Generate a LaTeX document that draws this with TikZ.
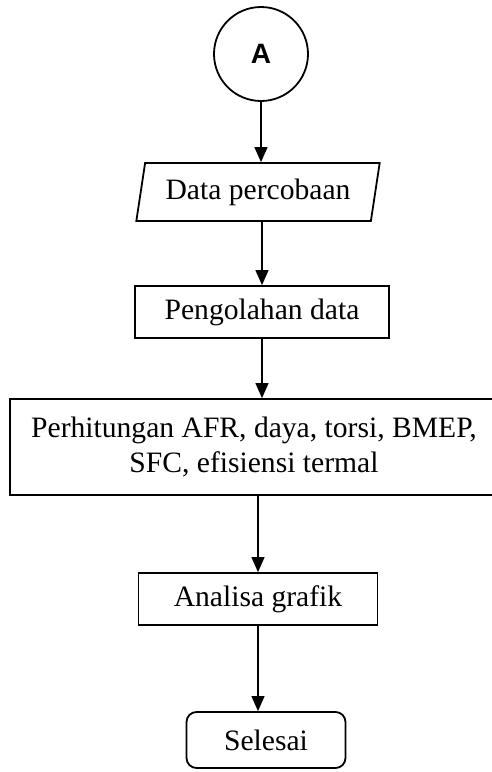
\documentclass[tikz,border=0pt]{standalone}
\usepackage{fontspec}
\setmainfont{Liberation Serif}
\setsansfont{Liberation Sans}
\usetikzlibrary{arrows.meta,shapes.geometric}

\begin{document}
\begin{tikzpicture}[x=1pt, y=-1pt,
    box/.style={rectangle, draw, line width=1.8pt, minimum height=52pt,
        font=\fontsize{29.6}{35}\selectfont, align=center, inner sep=0pt},
    arr/.style={line width=1.2pt, -{Triangle[length=15pt,width=13pt]}}]
    \useasboundingbox (0,0) rectangle (492,772);
    \node[circle, draw, line width=1.8pt, minimum size=94pt,
        font=\sffamily\bfseries\fontsize{28}{32}\selectfont] (A) at (261,54) {A};
    \node[trapezium, trapezium left angle=75, trapezium right angle=105,
        trapezium stretches=true, draw, line width=1.8pt,
        minimum width=244pt, minimum height=58pt, inner sep=0pt,
        font=\fontsize{29.6}{35}\selectfont] (data) at (258,192) {Data percobaan};
    \node[box, minimum width=254pt] (olah) at (262,312) {Pengolahan data};
    \node[box, minimum width=488pt, minimum height=96pt] (hitung) at (254,447)
        {Perhitungan AFR, daya, torsi, BMEP,\\SFC, efisiensi termal};
    \node[box, minimum width=239pt] (grafik) at (258,599) {Analisa grafik};
    \node[box, rounded corners=10pt, minimum width=159pt, minimum height=56pt]
        (selesai) at (266,740) {Selesai};

    \draw[arr] (A) -- (A |- data.north);
    \draw[arr] (data.south -| olah.north) -- (olah.north);
    \draw[arr] (olah.south) -- (olah.south |- hitung.north);
    \draw[arr] (hitung.south -| grafik.north) -- (grafik.north);
    \draw[arr] (grafik.south) -- (grafik.south |- selesai.north);
\end{tikzpicture}
\end{document}
